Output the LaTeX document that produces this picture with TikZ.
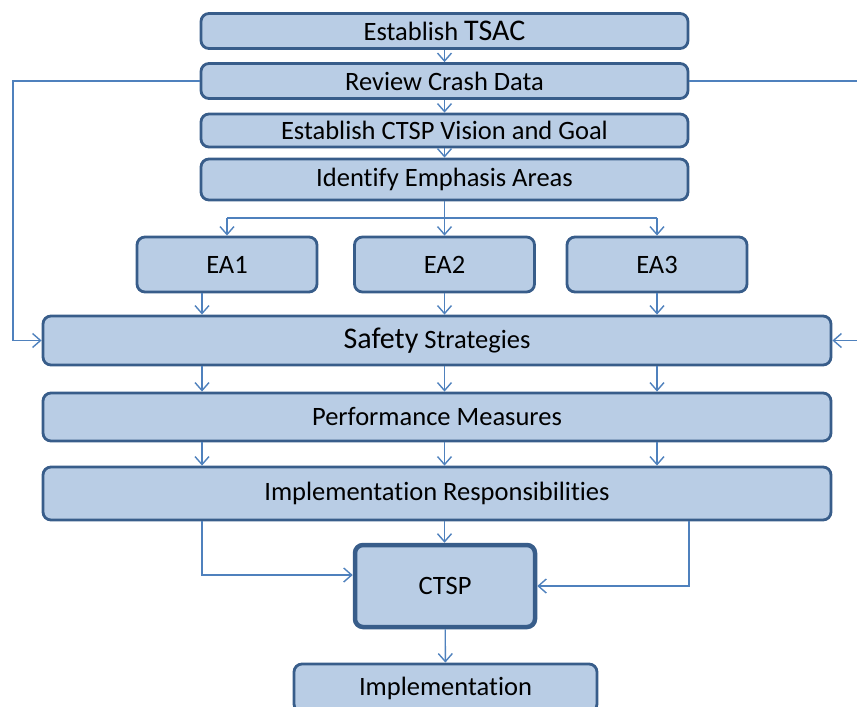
\documentclass[tikz,border=0pt]{standalone}
\usepackage{fontspec}
\setmainfont{Carlito}[Ligatures=NoCommon]
\usetikzlibrary{arrows.meta}
\definecolor{boxfill}{RGB}{185,205,229}
\definecolor{boxline}{RGB}{56,93,138}
\definecolor{linkblue}{RGB}{79,129,189}
\newcommand{\bigword}[1]{{\fontsize{30}{34}\selectfont #1}}
\tikzstyle{stage}=[draw=boxline, fill=boxfill, line width=2.8pt, rounded corners=8pt,
  inner sep=0pt, font=\fontsize{26.5}{30}\selectfont]
\tikzstyle{top}=[stage, minimum width=487pt]
\tikzstyle{area}=[stage, minimum width=180pt, minimum height=55pt]
\tikzstyle{wide}=[stage, minimum width=788pt]
\tikzstyle{link}=[-{Straight Barb[length=8pt,width=14pt]}, draw=linkblue, line width=1.4pt]

\begin{document}
\begin{tikzpicture}[x=1pt,y=-1pt]
  \path[use as bounding box] (0,0) rectangle (857,707);
  \clip (0,0) rectangle (857,707);

  %% process steps
  \draw (444.5,31) node[top,minimum height=35pt] (tsac) {Establish \bigword{TSAC}};
  \draw (444.5,81) node[top,minimum height=35pt] (review) {Review Crash Data};
  \draw (444.5,130.5) node[top,minimum height=33pt] (vision) {Establish CTSP Vision and Goal};
  \draw (444.5,179.5) node[top,minimum height=41pt] (emph) {Identify Emphasis Areas};

  \draw (227,264.5) node[area] (EA1) {EA1};
  \draw (444.5,264.5) node[area] (EA2) {EA2};
  \draw (657,264.5) node[area] (EA3) {EA3};

  \draw (437,340.5) node[wide,minimum height=49pt] (safety) {\bigword{Safety} Strategies};
  \draw (437,417) node[wide,minimum height=48pt] (perf) {Performance Measures};
  \draw (437,493.5) node[wide,minimum height=53pt] (resp) {Implementation Responsibilities};

  \draw (445,586) node[stage,line width=4.5pt,minimum width=180pt,minimum height=82pt] (ctsp) {CTSP};
  \draw (445.5,688) node[stage,minimum width=303pt,minimum height=48pt] (impl) {Implementation};

  %% helper columns
  \coordinate (split) at (444.5,218);
  \coordinate (splitL) at (227,218);
  \coordinate (splitR) at (657,218);
  \coordinate (colL) at (202,0);
  \coordinate (colM) at (444.5,0);
  \coordinate (colR) at (657,0);
  \coordinate (outR) at (689,0);
  \coordinate (loopL) at (13,0);
  \coordinate (loopR) at (880,0);

  \draw[link] (tsac) -- (review);
  \draw[link] (review) -- (vision);
  \draw[link] (vision) -- (emph);

  \draw[draw=linkblue, line width=1.4pt] (emph) -- (split);
  \draw[draw=linkblue, line width=1.4pt] (splitL) -- (splitR);
  \draw[link] (splitL) -- (EA1);
  \draw[link] (split) -- (EA2);
  \draw[link] (splitR) -- (EA3);

  \draw[link] (EA1.south -| colL) -- (safety.north -| colL);
  \draw[link] (EA2) -- (safety.north -| EA2);
  \draw[link] (EA3) -- (safety.north -| EA3);

  \draw[link] (safety.south -| colL) -- (perf.north -| colL);
  \draw[link] (safety.south -| colM) -- (perf.north -| colM);
  \draw[link] (safety.south -| colR) -- (perf.north -| colR);
  \draw[link] (perf.south -| colL) -- (resp.north -| colL);
  \draw[link] (perf.south -| colM) -- (resp.north -| colM);
  \draw[link] (perf.south -| colR) -- (resp.north -| colR);

  \draw[link] (resp.south -| colL) |- ([yshift=11pt]ctsp.west);
  \draw[link] (resp.south -| colM) -- (ctsp.north -| colM);
  \draw[link] (resp.south -| outR) |- (ctsp.east);
  \draw[link] (ctsp) -- (impl);

  %% feedback from crash data
  \draw[link] (review.west) -- (loopL |- review) -- (loopL |- safety) -- (safety.west);
  \draw[link] (review.east) -- (loopR |- review) -- (loopR |- safety) -- (safety.east);
\end{tikzpicture}
\end{document}
